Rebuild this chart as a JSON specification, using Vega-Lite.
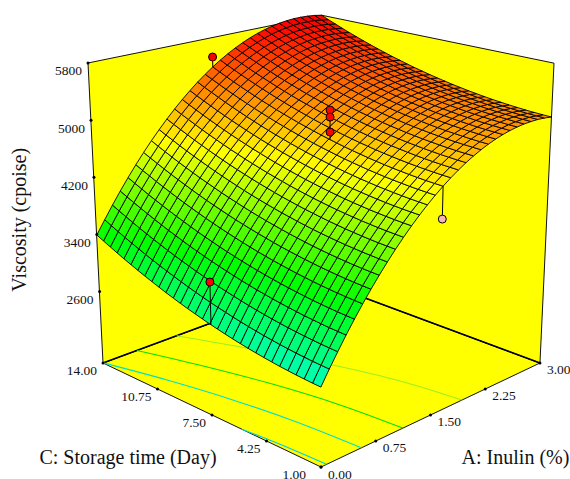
{"$schema":"https://vega.github.io/schema/vega-lite/v6.json","width":570,"height":479,"padding":0,"autosize":{"type":"none"},"background":"white","config":{"view":{"stroke":null}},
"datasets":{"frame":[
{"p":"wall","id":"f","o":0,"a":0,"c":1,"v":1600},{"p":"wall","id":"f","o":1,"a":3,"c":1,"v":1600},{"p":"wall","id":"f","o":2,"a":3,"c":14,"v":1600},{"p":"wall","id":"f","o":3,"a":0,"c":14,"v":1600},
{"p":"wall","id":"l","o":0,"a":0,"c":14,"v":1600},{"p":"wall","id":"l","o":1,"a":3,"c":14,"v":1600},{"p":"wall","id":"l","o":2,"a":3,"c":14,"v":5800},{"p":"wall","id":"l","o":3,"a":0,"c":14,"v":5800},
{"p":"wall","id":"r","o":0,"a":3,"c":1,"v":1600},{"p":"wall","id":"r","o":1,"a":3,"c":14,"v":1600},{"p":"wall","id":"r","o":2,"a":3,"c":14,"v":5800},{"p":"wall","id":"r","o":3,"a":3,"c":1,"v":5800},
{"p":"edge","id":"lb","o":0,"a":0,"c":14,"v":1600},{"p":"edge","id":"lb","o":1,"a":3,"c":14,"v":1600},{"p":"edge","id":"rb","o":0,"a":3,"c":1,"v":1600},{"p":"edge","id":"rb","o":1,"a":3,"c":14,"v":1600},
{"p":"cont","id":"2700","o":0,"a":0,"c":5.34,"v":1600},{"p":"cont","id":"2700","o":1,"a":0.024,"c":4.28,"v":1600},{"p":"cont","id":"2700","o":2,"a":0.048,"c":2.89,"v":1600},{"p":"cont","id":"2700","o":3,"a":0.067,"c":1,"v":1600},
{"p":"cont","id":"3400","o":0,"a":0.004,"c":14,"v":1600},{"p":"cont","id":"3400","o":1,"a":0.193,"c":10.75,"v":1600},{"p":"cont","id":"3400","o":2,"a":0.342,"c":7.5,"v":1600},{"p":"cont","id":"3400","o":3,"a":0.445,"c":4.25,"v":1600},{"p":"cont","id":"3400","o":4,"a":0.496,"c":1,"v":1600},
{"p":"cont","id":"4100","o":0,"a":0.42,"c":14,"v":1600},{"p":"cont","id":"4100","o":1,"a":0.646,"c":10.75,"v":1600},{"p":"cont","id":"4100","o":2,"a":0.833,"c":7.5,"v":1600},{"p":"cont","id":"4100","o":3,"a":0.965,"c":4.25,"v":1600},{"p":"cont","id":"4100","o":4,"a":1.03,"c":1,"v":1600},
{"p":"cont","id":"4800","o":0,"a":0.933,"c":14,"v":1600},{"p":"cont","id":"4800","o":1,"a":1.235,"c":10.75,"v":1600},{"p":"cont","id":"4800","o":2,"a":1.509,"c":7.5,"v":1600},{"p":"cont","id":"4800","o":3,"a":1.724,"c":4.25,"v":1600},{"p":"cont","id":"4800","o":4,"a":1.838,"c":1,"v":1600},
{"p":"stem","id":"s1","o":0,"a":1.5,"c":14,"v":5513},{"p":"stem","id":"s1","o":1,"a":1.5,"c":14,"v":5366},
{"p":"stem","id":"s2","o":0,"a":0,"c":7,"v":3345},{"p":"stem","id":"s2","o":1,"a":0,"c":7,"v":2786},
{"p":"stem","id":"s3","o":0,"a":1.5,"c":7,"v":5175},{"p":"stem","id":"s3","o":1,"a":1.5,"c":7,"v":4763},
{"p":"stem","id":"s4","o":0,"a":1.5,"c":1,"v":4128},{"p":"stem","id":"s4","o":1,"a":1.5,"c":1,"v":4560},
{"p":"dot","id":"above","a":1.5,"c":14,"v":5513},{"p":"dot","id":"above","a":0,"c":7,"v":3345},{"p":"dot","id":"above","a":1.5,"c":7,"v":5175},{"p":"dot","id":"above","a":1.5,"c":7,"v":5076},{"p":"dot","id":"above","a":1.5,"c":7,"v":4868},{"p":"dot","id":"below","a":1.5,"c":1,"v":4128},
{"p":"tk","id":"z","a":0,"c":14,"v":5800,"lab":"5800"},{"p":"tk","id":"z","a":0,"c":14,"v":5000,"lab":"5000"},{"p":"tk","id":"z","a":0,"c":14,"v":4200,"lab":"4200"},{"p":"tk","id":"z","a":0,"c":14,"v":3400,"lab":"3400"},{"p":"tk","id":"z","a":0,"c":14,"v":2600,"lab":"2600"},
{"p":"tk","id":"z","a":0,"c":14,"v":1600,"lab":"14.00"},{"p":"tk","id":"z","a":0,"c":10.75,"v":1600,"lab":"10.75"},{"p":"tk","id":"z","a":0,"c":7.5,"v":1600,"lab":"7.50"},{"p":"tk","id":"z","a":0,"c":4.25,"v":1600,"lab":"4.25"},
{"p":"tk","id":"c0","a":0,"c":1,"v":1600,"lab":"1.00"},
{"p":"tk","id":"x","a":0,"c":1,"v":1600,"lab":"0.00"},{"p":"tk","id":"x","a":0.75,"c":1,"v":1600,"lab":"0.75"},{"p":"tk","id":"x","a":1.5,"c":1,"v":1600,"lab":"1.50"},{"p":"tk","id":"x","a":2.25,"c":1,"v":1600,"lab":"2.25"},{"p":"tk","id":"x","a":3,"c":1,"v":1600,"lab":"3.00"},
{"p":"ti","id":"tc","a":0,"c":7.5,"v":1600,"lab":"C: Storage time (Day)"},{"p":"ti","id":"ta","a":1.5,"c":1,"v":1600,"lab":"A: Inulin (%)"},{"p":"ti","id":"tz","a":0,"c":14,"v":4200,"lab":"Viscosity (cpoise)"}
],
"surface":[
{"a":0,"c":1,"v":2580},{"a":0,"c":1.43,"v":2585},{"a":0,"c":1.87,"v":2592},{"a":0,"c":2.3,"v":2600},{"a":0,"c":2.73,"v":2610},{"a":0,"c":3.17,"v":2621},{"a":0,"c":3.6,"v":2634},{"a":0,"c":4.03,"v":2648},{"a":0,"c":4.47,"v":2664},{"a":0,"c":4.9,"v":2681},{"a":0,"c":5.33,"v":2700},{"a":0,"c":5.77,"v":2720},{"a":0,"c":6.2,"v":2742},{"a":0,"c":6.63,"v":2765},{"a":0,"c":7.07,"v":2790},{"a":0,"c":7.5,"v":2816},{"a":0,"c":7.93,"v":2844},{"a":0,"c":8.37,"v":2873},{"a":0,"c":8.8,"v":2904},{"a":0,"c":9.23,"v":2936},{"a":0,"c":9.67,"v":2970},{"a":0,"c":10.1,"v":3006},{"a":0,"c":10.53,"v":3043},{"a":0,"c":10.97,"v":3081},{"a":0,"c":11.4,"v":3121},{"a":0,"c":11.83,"v":3162},{"a":0,"c":12.27,"v":3205},{"a":0,"c":12.7,"v":3250},{"a":0,"c":13.13,"v":3296},{"a":0,"c":13.57,"v":3343},{"a":0,"c":14,"v":3392},
{"a":0.1,"c":1,"v":2759},{"a":0.1,"c":1.43,"v":2764},{"a":0.1,"c":1.87,"v":2770},{"a":0.1,"c":2.3,"v":2779},{"a":0.1,"c":2.73,"v":2788},{"a":0.1,"c":3.17,"v":2800},{"a":0.1,"c":3.6,"v":2812},{"a":0.1,"c":4.03,"v":2827},{"a":0.1,"c":4.47,"v":2842},{"a":0.1,"c":4.9,"v":2860},{"a":0.1,"c":5.33,"v":2879},{"a":0.1,"c":5.77,"v":2899},{"a":0.1,"c":6.2,"v":2921},{"a":0.1,"c":6.63,"v":2944},{"a":0.1,"c":7.07,"v":2969},{"a":0.1,"c":7.5,"v":2995},{"a":0.1,"c":7.93,"v":3023},{"a":0.1,"c":8.37,"v":3052},{"a":0.1,"c":8.8,"v":3083},{"a":0.1,"c":9.23,"v":3116},{"a":0.1,"c":9.67,"v":3150},{"a":0.1,"c":10.1,"v":3185},{"a":0.1,"c":10.53,"v":3222},{"a":0.1,"c":10.97,"v":3260},{"a":0.1,"c":11.4,"v":3300},{"a":0.1,"c":11.83,"v":3342},{"a":0.1,"c":12.27,"v":3385},{"a":0.1,"c":12.7,"v":3429},{"a":0.1,"c":13.13,"v":3475},{"a":0.1,"c":13.57,"v":3523},{"a":0.1,"c":14,"v":3571},
{"a":0.2,"c":1,"v":2930},{"a":0.2,"c":1.43,"v":2936},{"a":0.2,"c":1.87,"v":2942},{"a":0.2,"c":2.3,"v":2951},{"a":0.2,"c":2.73,"v":2960},{"a":0.2,"c":3.17,"v":2972},{"a":0.2,"c":3.6,"v":2984},{"a":0.2,"c":4.03,"v":2999},{"a":0.2,"c":4.47,"v":3014},{"a":0.2,"c":4.9,"v":3032},{"a":0.2,"c":5.33,"v":3051},{"a":0.2,"c":5.77,"v":3071},{"a":0.2,"c":6.2,"v":3093},{"a":0.2,"c":6.63,"v":3116},{"a":0.2,"c":7.07,"v":3141},{"a":0.2,"c":7.5,"v":3167},{"a":0.2,"c":7.93,"v":3195},{"a":0.2,"c":8.37,"v":3225},{"a":0.2,"c":8.8,"v":3255},{"a":0.2,"c":9.23,"v":3288},{"a":0.2,"c":9.67,"v":3322},{"a":0.2,"c":10.1,"v":3357},{"a":0.2,"c":10.53,"v":3394},{"a":0.2,"c":10.97,"v":3433},{"a":0.2,"c":11.4,"v":3473},{"a":0.2,"c":11.83,"v":3514},{"a":0.2,"c":12.27,"v":3557},{"a":0.2,"c":12.7,"v":3602},{"a":0.2,"c":13.13,"v":3648},{"a":0.2,"c":13.57,"v":3695},{"a":0.2,"c":14,"v":3744},
{"a":0.3,"c":1,"v":3096},{"a":0.3,"c":1.43,"v":3101},{"a":0.3,"c":1.87,"v":3107},{"a":0.3,"c":2.3,"v":3116},{"a":0.3,"c":2.73,"v":3126},{"a":0.3,"c":3.17,"v":3136},{"a":0.3,"c":3.6,"v":3150},{"a":0.3,"c":4.03,"v":3164},{"a":0.3,"c":4.47,"v":3180},{"a":0.3,"c":4.9,"v":3197},{"a":0.3,"c":5.33,"v":3216},{"a":0.3,"c":5.77,"v":3236},{"a":0.3,"c":6.2,"v":3258},{"a":0.3,"c":6.63,"v":3281},{"a":0.3,"c":7.07,"v":3306},{"a":0.3,"c":7.5,"v":3333},{"a":0.3,"c":7.93,"v":3361},{"a":0.3,"c":8.37,"v":3390},{"a":0.3,"c":8.8,"v":3421},{"a":0.3,"c":9.23,"v":3453},{"a":0.3,"c":9.67,"v":3487},{"a":0.3,"c":10.1,"v":3523},{"a":0.3,"c":10.53,"v":3560},{"a":0.3,"c":10.97,"v":3598},{"a":0.3,"c":11.4,"v":3638},{"a":0.3,"c":11.83,"v":3680},{"a":0.3,"c":12.27,"v":3723},{"a":0.3,"c":12.7,"v":3767},{"a":0.3,"c":13.13,"v":3813},{"a":0.3,"c":13.57,"v":3861},{"a":0.3,"c":14,"v":3910},
{"a":0.4,"c":1,"v":3254},{"a":0.4,"c":1.43,"v":3259},{"a":0.4,"c":1.87,"v":3266},{"a":0.4,"c":2.3,"v":3274},{"a":0.4,"c":2.73,"v":3284},{"a":0.4,"c":3.17,"v":3295},{"a":0.4,"c":3.6,"v":3308},{"a":0.4,"c":4.03,"v":3323},{"a":0.4,"c":4.47,"v":3339},{"a":0.4,"c":4.9,"v":3356},{"a":0.4,"c":5.33,"v":3375},{"a":0.4,"c":5.77,"v":3395},{"a":0.4,"c":6.2,"v":3417},{"a":0.4,"c":6.63,"v":3440},{"a":0.4,"c":7.07,"v":3465},{"a":0.4,"c":7.5,"v":3492},{"a":0.4,"c":7.93,"v":3519},{"a":0.4,"c":8.37,"v":3549},{"a":0.4,"c":8.8,"v":3580},{"a":0.4,"c":9.23,"v":3612},{"a":0.4,"c":9.67,"v":3646},{"a":0.4,"c":10.1,"v":3682},{"a":0.4,"c":10.53,"v":3719},{"a":0.4,"c":10.97,"v":3757},{"a":0.4,"c":11.4,"v":3797},{"a":0.4,"c":11.83,"v":3839},{"a":0.4,"c":12.27,"v":3882},{"a":0.4,"c":12.7,"v":3926},{"a":0.4,"c":13.13,"v":3973},{"a":0.4,"c":13.57,"v":4020},{"a":0.4,"c":14,"v":4069},
{"a":0.5,"c":1,"v":3406},{"a":0.5,"c":1.43,"v":3411},{"a":0.5,"c":1.87,"v":3418},{"a":0.5,"c":2.3,"v":3426},{"a":0.5,"c":2.73,"v":3436},{"a":0.5,"c":3.17,"v":3447},{"a":0.5,"c":3.6,"v":3460},{"a":0.5,"c":4.03,"v":3475},{"a":0.5,"c":4.47,"v":3490},{"a":0.5,"c":4.9,"v":3508},{"a":0.5,"c":5.33,"v":3527},{"a":0.5,"c":5.77,"v":3547},{"a":0.5,"c":6.2,"v":3569},{"a":0.5,"c":6.63,"v":3592},{"a":0.5,"c":7.07,"v":3617},{"a":0.5,"c":7.5,"v":3644},{"a":0.5,"c":7.93,"v":3672},{"a":0.5,"c":8.37,"v":3701},{"a":0.5,"c":8.8,"v":3732},{"a":0.5,"c":9.23,"v":3764},{"a":0.5,"c":9.67,"v":3798},{"a":0.5,"c":10.1,"v":3834},{"a":0.5,"c":10.53,"v":3871},{"a":0.5,"c":10.97,"v":3909},{"a":0.5,"c":11.4,"v":3949},{"a":0.5,"c":11.83,"v":3991},{"a":0.5,"c":12.27,"v":4034},{"a":0.5,"c":12.7,"v":4078},{"a":0.5,"c":13.13,"v":4125},{"a":0.5,"c":13.57,"v":4172},{"a":0.5,"c":14,"v":4221},
{"a":0.6,"c":1,"v":3551},{"a":0.6,"c":1.43,"v":3557},{"a":0.6,"c":1.87,"v":3563},{"a":0.6,"c":2.3,"v":3572},{"a":0.6,"c":2.73,"v":3581},{"a":0.6,"c":3.17,"v":3593},{"a":0.6,"c":3.6,"v":3605},{"a":0.6,"c":4.03,"v":3620},{"a":0.6,"c":4.47,"v":3636},{"a":0.6,"c":4.9,"v":3653},{"a":0.6,"c":5.33,"v":3672},{"a":0.6,"c":5.77,"v":3692},{"a":0.6,"c":6.2,"v":3714},{"a":0.6,"c":6.63,"v":3738},{"a":0.6,"c":7.07,"v":3763},{"a":0.6,"c":7.5,"v":3789},{"a":0.6,"c":7.93,"v":3817},{"a":0.6,"c":8.37,"v":3846},{"a":0.6,"c":8.8,"v":3877},{"a":0.6,"c":9.23,"v":3910},{"a":0.6,"c":9.67,"v":3944},{"a":0.6,"c":10.1,"v":3979},{"a":0.6,"c":10.53,"v":4016},{"a":0.6,"c":10.97,"v":4055},{"a":0.6,"c":11.4,"v":4095},{"a":0.6,"c":11.83,"v":4136},{"a":0.6,"c":12.27,"v":4179},{"a":0.6,"c":12.7,"v":4224},{"a":0.6,"c":13.13,"v":4270},{"a":0.6,"c":13.57,"v":4317},{"a":0.6,"c":14,"v":4366},
{"a":0.7,"c":1,"v":3690},{"a":0.7,"c":1.43,"v":3696},{"a":0.7,"c":1.87,"v":3702},{"a":0.7,"c":2.3,"v":3710},{"a":0.7,"c":2.73,"v":3720},{"a":0.7,"c":3.17,"v":3731},{"a":0.7,"c":3.6,"v":3744},{"a":0.7,"c":4.03,"v":3758},{"a":0.7,"c":4.47,"v":3774},{"a":0.7,"c":4.9,"v":3792},{"a":0.7,"c":5.33,"v":3810},{"a":0.7,"c":5.77,"v":3831},{"a":0.7,"c":6.2,"v":3853},{"a":0.7,"c":6.63,"v":3876},{"a":0.7,"c":7.07,"v":3901},{"a":0.7,"c":7.5,"v":3927},{"a":0.7,"c":7.93,"v":3955},{"a":0.7,"c":8.37,"v":3985},{"a":0.7,"c":8.8,"v":4016},{"a":0.7,"c":9.23,"v":4048},{"a":0.7,"c":9.67,"v":4082},{"a":0.7,"c":10.1,"v":4118},{"a":0.7,"c":10.53,"v":4155},{"a":0.7,"c":10.97,"v":4193},{"a":0.7,"c":11.4,"v":4233},{"a":0.7,"c":11.83,"v":4274},{"a":0.7,"c":12.27,"v":4317},{"a":0.7,"c":12.7,"v":4362},{"a":0.7,"c":13.13,"v":4408},{"a":0.7,"c":13.57,"v":4456},{"a":0.7,"c":14,"v":4505},
{"a":0.8,"c":1,"v":3822},{"a":0.8,"c":1.43,"v":3827},{"a":0.8,"c":1.87,"v":3834},{"a":0.8,"c":2.3,"v":3842},{"a":0.8,"c":2.73,"v":3852},{"a":0.8,"c":3.17,"v":3863},{"a":0.8,"c":3.6,"v":3876},{"a":0.8,"c":4.03,"v":3890},{"a":0.8,"c":4.47,"v":3906},{"a":0.8,"c":4.9,"v":3923},{"a":0.8,"c":5.33,"v":3942},{"a":0.8,"c":5.77,"v":3963},{"a":0.8,"c":6.2,"v":3985},{"a":0.8,"c":6.63,"v":4008},{"a":0.8,"c":7.07,"v":4033},{"a":0.8,"c":7.5,"v":4059},{"a":0.8,"c":7.93,"v":4087},{"a":0.8,"c":8.37,"v":4116},{"a":0.8,"c":8.8,"v":4147},{"a":0.8,"c":9.23,"v":4180},{"a":0.8,"c":9.67,"v":4214},{"a":0.8,"c":10.1,"v":4249},{"a":0.8,"c":10.53,"v":4286},{"a":0.8,"c":10.97,"v":4325},{"a":0.8,"c":11.4,"v":4365},{"a":0.8,"c":11.83,"v":4406},{"a":0.8,"c":12.27,"v":4449},{"a":0.8,"c":12.7,"v":4494},{"a":0.8,"c":13.13,"v":4540},{"a":0.8,"c":13.57,"v":4587},{"a":0.8,"c":14,"v":4636},
{"a":0.9,"c":1,"v":3947},{"a":0.9,"c":1.43,"v":3953},{"a":0.9,"c":1.87,"v":3959},{"a":0.9,"c":2.3,"v":3967},{"a":0.9,"c":2.73,"v":3977},{"a":0.9,"c":3.17,"v":3989},{"a":0.9,"c":3.6,"v":4001},{"a":0.9,"c":4.03,"v":4016},{"a":0.9,"c":4.47,"v":4031},{"a":0.9,"c":4.9,"v":4049},{"a":0.9,"c":5.33,"v":4068},{"a":0.9,"c":5.77,"v":4088},{"a":0.9,"c":6.2,"v":4110},{"a":0.9,"c":6.63,"v":4133},{"a":0.9,"c":7.07,"v":4158},{"a":0.9,"c":7.5,"v":4184},{"a":0.9,"c":7.93,"v":4212},{"a":0.9,"c":8.37,"v":4242},{"a":0.9,"c":8.8,"v":4272},{"a":0.9,"c":9.23,"v":4305},{"a":0.9,"c":9.67,"v":4339},{"a":0.9,"c":10.1,"v":4374},{"a":0.9,"c":10.53,"v":4411},{"a":0.9,"c":10.97,"v":4450},{"a":0.9,"c":11.4,"v":4490},{"a":0.9,"c":11.83,"v":4531},{"a":0.9,"c":12.27,"v":4574},{"a":0.9,"c":12.7,"v":4619},{"a":0.9,"c":13.13,"v":4665},{"a":0.9,"c":13.57,"v":4712},{"a":0.9,"c":14,"v":4761},
{"a":1,"c":1,"v":4066},{"a":1,"c":1.43,"v":4071},{"a":1,"c":1.87,"v":4078},{"a":1,"c":2.3,"v":4086},{"a":1,"c":2.73,"v":4096},{"a":1,"c":3.17,"v":4107},{"a":1,"c":3.6,"v":4120},{"a":1,"c":4.03,"v":4134},{"a":1,"c":4.47,"v":4150},{"a":1,"c":4.9,"v":4167},{"a":1,"c":5.33,"v":4186},{"a":1,"c":5.77,"v":4206},{"a":1,"c":6.2,"v":4228},{"a":1,"c":6.63,"v":4251},{"a":1,"c":7.07,"v":4276},{"a":1,"c":7.5,"v":4303},{"a":1,"c":7.93,"v":4330},{"a":1,"c":8.37,"v":4360},{"a":1,"c":8.8,"v":4391},{"a":1,"c":9.23,"v":4423},{"a":1,"c":9.67,"v":4457},{"a":1,"c":10.1,"v":4493},{"a":1,"c":10.53,"v":4529},{"a":1,"c":10.97,"v":4568},{"a":1,"c":11.4,"v":4608},{"a":1,"c":11.83,"v":4649},{"a":1,"c":12.27,"v":4692},{"a":1,"c":12.7,"v":4737},{"a":1,"c":13.13,"v":4783},{"a":1,"c":13.57,"v":4830},{"a":1,"c":14,"v":4879},
{"a":1.1,"c":1,"v":4178},{"a":1.1,"c":1.43,"v":4183},{"a":1.1,"c":1.87,"v":4190},{"a":1.1,"c":2.3,"v":4198},{"a":1.1,"c":2.73,"v":4208},{"a":1.1,"c":3.17,"v":4219},{"a":1.1,"c":3.6,"v":4232},{"a":1.1,"c":4.03,"v":4246},{"a":1.1,"c":4.47,"v":4262},{"a":1.1,"c":4.9,"v":4279},{"a":1.1,"c":5.33,"v":4298},{"a":1.1,"c":5.77,"v":4318},{"a":1.1,"c":6.2,"v":4340},{"a":1.1,"c":6.63,"v":4363},{"a":1.1,"c":7.07,"v":4388},{"a":1.1,"c":7.5,"v":4414},{"a":1.1,"c":7.93,"v":4442},{"a":1.1,"c":8.37,"v":4471},{"a":1.1,"c":8.8,"v":4502},{"a":1.1,"c":9.23,"v":4535},{"a":1.1,"c":9.67,"v":4568},{"a":1.1,"c":10.1,"v":4604},{"a":1.1,"c":10.53,"v":4641},{"a":1.1,"c":10.97,"v":4679},{"a":1.1,"c":11.4,"v":4719},{"a":1.1,"c":11.83,"v":4760},{"a":1.1,"c":12.27,"v":4803},{"a":1.1,"c":12.7,"v":4848},{"a":1.1,"c":13.13,"v":4894},{"a":1.1,"c":13.57,"v":4941},{"a":1.1,"c":14,"v":4990},
{"a":1.2,"c":1,"v":4284},{"a":1.2,"c":1.43,"v":4289},{"a":1.2,"c":1.87,"v":4295},{"a":1.2,"c":2.3,"v":4303},{"a":1.2,"c":2.73,"v":4313},{"a":1.2,"c":3.17,"v":4324},{"a":1.2,"c":3.6,"v":4337},{"a":1.2,"c":4.03,"v":4351},{"a":1.2,"c":4.47,"v":4367},{"a":1.2,"c":4.9,"v":4384},{"a":1.2,"c":5.33,"v":4403},{"a":1.2,"c":5.77,"v":4423},{"a":1.2,"c":6.2,"v":4445},{"a":1.2,"c":6.63,"v":4468},{"a":1.2,"c":7.07,"v":4493},{"a":1.2,"c":7.5,"v":4519},{"a":1.2,"c":7.93,"v":4547},{"a":1.2,"c":8.37,"v":4576},{"a":1.2,"c":8.8,"v":4607},{"a":1.2,"c":9.23,"v":4639},{"a":1.2,"c":9.67,"v":4673},{"a":1.2,"c":10.1,"v":4708},{"a":1.2,"c":10.53,"v":4745},{"a":1.2,"c":10.97,"v":4784},{"a":1.2,"c":11.4,"v":4824},{"a":1.2,"c":11.83,"v":4865},{"a":1.2,"c":12.27,"v":4908},{"a":1.2,"c":12.7,"v":4952},{"a":1.2,"c":13.13,"v":4998},{"a":1.2,"c":13.57,"v":5045},{"a":1.2,"c":14,"v":5094},
{"a":1.3,"c":1,"v":4382},{"a":1.3,"c":1.43,"v":4387},{"a":1.3,"c":1.87,"v":4394},{"a":1.3,"c":2.3,"v":4402},{"a":1.3,"c":2.73,"v":4412},{"a":1.3,"c":3.17,"v":4423},{"a":1.3,"c":3.6,"v":4435},{"a":1.3,"c":4.03,"v":4450},{"a":1.3,"c":4.47,"v":4465},{"a":1.3,"c":4.9,"v":4482},{"a":1.3,"c":5.33,"v":4501},{"a":1.3,"c":5.77,"v":4521},{"a":1.3,"c":6.2,"v":4543},{"a":1.3,"c":6.63,"v":4566},{"a":1.3,"c":7.07,"v":4591},{"a":1.3,"c":7.5,"v":4617},{"a":1.3,"c":7.93,"v":4645},{"a":1.3,"c":8.37,"v":4674},{"a":1.3,"c":8.8,"v":4705},{"a":1.3,"c":9.23,"v":4737},{"a":1.3,"c":9.67,"v":4771},{"a":1.3,"c":10.1,"v":4806},{"a":1.3,"c":10.53,"v":4843},{"a":1.3,"c":10.97,"v":4881},{"a":1.3,"c":11.4,"v":4921},{"a":1.3,"c":11.83,"v":4962},{"a":1.3,"c":12.27,"v":5005},{"a":1.3,"c":12.7,"v":5050},{"a":1.3,"c":13.13,"v":5096},{"a":1.3,"c":13.57,"v":5143},{"a":1.3,"c":14,"v":5192},
{"a":1.4,"c":1,"v":4475},{"a":1.4,"c":1.43,"v":4480},{"a":1.4,"c":1.87,"v":4486},{"a":1.4,"c":2.3,"v":4494},{"a":1.4,"c":2.73,"v":4504},{"a":1.4,"c":3.17,"v":4515},{"a":1.4,"c":3.6,"v":4527},{"a":1.4,"c":4.03,"v":4541},{"a":1.4,"c":4.47,"v":4557},{"a":1.4,"c":4.9,"v":4574},{"a":1.4,"c":5.33,"v":4593},{"a":1.4,"c":5.77,"v":4613},{"a":1.4,"c":6.2,"v":4634},{"a":1.4,"c":6.63,"v":4658},{"a":1.4,"c":7.07,"v":4682},{"a":1.4,"c":7.5,"v":4708},{"a":1.4,"c":7.93,"v":4736},{"a":1.4,"c":8.37,"v":4765},{"a":1.4,"c":8.8,"v":4796},{"a":1.4,"c":9.23,"v":4828},{"a":1.4,"c":9.67,"v":4862},{"a":1.4,"c":10.1,"v":4897},{"a":1.4,"c":10.53,"v":4934},{"a":1.4,"c":10.97,"v":4972},{"a":1.4,"c":11.4,"v":5012},{"a":1.4,"c":11.83,"v":5053},{"a":1.4,"c":12.27,"v":5096},{"a":1.4,"c":12.7,"v":5140},{"a":1.4,"c":13.13,"v":5186},{"a":1.4,"c":13.57,"v":5234},{"a":1.4,"c":14,"v":5282},
{"a":1.5,"c":1,"v":4560},{"a":1.5,"c":1.43,"v":4565},{"a":1.5,"c":1.87,"v":4571},{"a":1.5,"c":2.3,"v":4579},{"a":1.5,"c":2.73,"v":4589},{"a":1.5,"c":3.17,"v":4600},{"a":1.5,"c":3.6,"v":4612},{"a":1.5,"c":4.03,"v":4626},{"a":1.5,"c":4.47,"v":4642},{"a":1.5,"c":4.9,"v":4659},{"a":1.5,"c":5.33,"v":4678},{"a":1.5,"c":5.77,"v":4698},{"a":1.5,"c":6.2,"v":4719},{"a":1.5,"c":6.63,"v":4742},{"a":1.5,"c":7.07,"v":4767},{"a":1.5,"c":7.5,"v":4793},{"a":1.5,"c":7.93,"v":4821},{"a":1.5,"c":8.37,"v":4850},{"a":1.5,"c":8.8,"v":4880},{"a":1.5,"c":9.23,"v":4912},{"a":1.5,"c":9.67,"v":4946},{"a":1.5,"c":10.1,"v":4981},{"a":1.5,"c":10.53,"v":5018},{"a":1.5,"c":10.97,"v":5056},{"a":1.5,"c":11.4,"v":5096},{"a":1.5,"c":11.83,"v":5137},{"a":1.5,"c":12.27,"v":5180},{"a":1.5,"c":12.7,"v":5224},{"a":1.5,"c":13.13,"v":5270},{"a":1.5,"c":13.57,"v":5317},{"a":1.5,"c":14,"v":5366},
{"a":1.6,"c":1,"v":4639},{"a":1.6,"c":1.43,"v":4644},{"a":1.6,"c":1.87,"v":4650},{"a":1.6,"c":2.3,"v":4658},{"a":1.6,"c":2.73,"v":4667},{"a":1.6,"c":3.17,"v":4678},{"a":1.6,"c":3.6,"v":4691},{"a":1.6,"c":4.03,"v":4705},{"a":1.6,"c":4.47,"v":4720},{"a":1.6,"c":4.9,"v":4737},{"a":1.6,"c":5.33,"v":4756},{"a":1.6,"c":5.77,"v":4776},{"a":1.6,"c":6.2,"v":4797},{"a":1.6,"c":6.63,"v":4820},{"a":1.6,"c":7.07,"v":4845},{"a":1.6,"c":7.5,"v":4871},{"a":1.6,"c":7.93,"v":4898},{"a":1.6,"c":8.37,"v":4927},{"a":1.6,"c":8.8,"v":4958},{"a":1.6,"c":9.23,"v":4990},{"a":1.6,"c":9.67,"v":5024},{"a":1.6,"c":10.1,"v":5059},{"a":1.6,"c":10.53,"v":5095},{"a":1.6,"c":10.97,"v":5134},{"a":1.6,"c":11.4,"v":5173},{"a":1.6,"c":11.83,"v":5214},{"a":1.6,"c":12.27,"v":5257},{"a":1.6,"c":12.7,"v":5301},{"a":1.6,"c":13.13,"v":5347},{"a":1.6,"c":13.57,"v":5394},{"a":1.6,"c":14,"v":5443},
{"a":1.7,"c":1,"v":4711},{"a":1.7,"c":1.43,"v":4716},{"a":1.7,"c":1.87,"v":4722},{"a":1.7,"c":2.3,"v":4730},{"a":1.7,"c":2.73,"v":4739},{"a":1.7,"c":3.17,"v":4750},{"a":1.7,"c":3.6,"v":4763},{"a":1.7,"c":4.03,"v":4777},{"a":1.7,"c":4.47,"v":4792},{"a":1.7,"c":4.9,"v":4809},{"a":1.7,"c":5.33,"v":4827},{"a":1.7,"c":5.77,"v":4847},{"a":1.7,"c":6.2,"v":4869},{"a":1.7,"c":6.63,"v":4891},{"a":1.7,"c":7.07,"v":4916},{"a":1.7,"c":7.5,"v":4942},{"a":1.7,"c":7.93,"v":4969},{"a":1.7,"c":8.37,"v":4998},{"a":1.7,"c":8.8,"v":5029},{"a":1.7,"c":9.23,"v":5061},{"a":1.7,"c":9.67,"v":5094},{"a":1.7,"c":10.1,"v":5129},{"a":1.7,"c":10.53,"v":5166},{"a":1.7,"c":10.97,"v":5204},{"a":1.7,"c":11.4,"v":5244},{"a":1.7,"c":11.83,"v":5285},{"a":1.7,"c":12.27,"v":5327},{"a":1.7,"c":12.7,"v":5371},{"a":1.7,"c":13.13,"v":5417},{"a":1.7,"c":13.57,"v":5464},{"a":1.7,"c":14,"v":5513},
{"a":1.8,"c":1,"v":4777},{"a":1.8,"c":1.43,"v":4781},{"a":1.8,"c":1.87,"v":4788},{"a":1.8,"c":2.3,"v":4795},{"a":1.8,"c":2.73,"v":4805},{"a":1.8,"c":3.17,"v":4815},{"a":1.8,"c":3.6,"v":4828},{"a":1.8,"c":4.03,"v":4841},{"a":1.8,"c":4.47,"v":4857},{"a":1.8,"c":4.9,"v":4874},{"a":1.8,"c":5.33,"v":4892},{"a":1.8,"c":5.77,"v":4912},{"a":1.8,"c":6.2,"v":4933},{"a":1.8,"c":6.63,"v":4956},{"a":1.8,"c":7.07,"v":4980},{"a":1.8,"c":7.5,"v":5006},{"a":1.8,"c":7.93,"v":5034},{"a":1.8,"c":8.37,"v":5063},{"a":1.8,"c":8.8,"v":5093},{"a":1.8,"c":9.23,"v":5125},{"a":1.8,"c":9.67,"v":5158},{"a":1.8,"c":10.1,"v":5193},{"a":1.8,"c":10.53,"v":5230},{"a":1.8,"c":10.97,"v":5268},{"a":1.8,"c":11.4,"v":5307},{"a":1.8,"c":11.83,"v":5348},{"a":1.8,"c":12.27,"v":5391},{"a":1.8,"c":12.7,"v":5435},{"a":1.8,"c":13.13,"v":5480},{"a":1.8,"c":13.57,"v":5527},{"a":1.8,"c":14,"v":5576},
{"a":1.9,"c":1,"v":4836},{"a":1.9,"c":1.43,"v":4840},{"a":1.9,"c":1.87,"v":4846},{"a":1.9,"c":2.3,"v":4854},{"a":1.9,"c":2.73,"v":4863},{"a":1.9,"c":3.17,"v":4874},{"a":1.9,"c":3.6,"v":4886},{"a":1.9,"c":4.03,"v":4900},{"a":1.9,"c":4.47,"v":4915},{"a":1.9,"c":4.9,"v":4932},{"a":1.9,"c":5.33,"v":4950},{"a":1.9,"c":5.77,"v":4970},{"a":1.9,"c":6.2,"v":4991},{"a":1.9,"c":6.63,"v":5014},{"a":1.9,"c":7.07,"v":5038},{"a":1.9,"c":7.5,"v":5064},{"a":1.9,"c":7.93,"v":5091},{"a":1.9,"c":8.37,"v":5120},{"a":1.9,"c":8.8,"v":5150},{"a":1.9,"c":9.23,"v":5182},{"a":1.9,"c":9.67,"v":5216},{"a":1.9,"c":10.1,"v":5251},{"a":1.9,"c":10.53,"v":5287},{"a":1.9,"c":10.97,"v":5325},{"a":1.9,"c":11.4,"v":5364},{"a":1.9,"c":11.83,"v":5405},{"a":1.9,"c":12.27,"v":5448},{"a":1.9,"c":12.7,"v":5492},{"a":1.9,"c":13.13,"v":5537},{"a":1.9,"c":13.57,"v":5584},{"a":1.9,"c":14,"v":5632},
{"a":2,"c":1,"v":4888},{"a":2,"c":1.43,"v":4893},{"a":2,"c":1.87,"v":4899},{"a":2,"c":2.3,"v":4906},{"a":2,"c":2.73,"v":4915},{"a":2,"c":3.17,"v":4926},{"a":2,"c":3.6,"v":4938},{"a":2,"c":4.03,"v":4952},{"a":2,"c":4.47,"v":4967},{"a":2,"c":4.9,"v":4983},{"a":2,"c":5.33,"v":5002},{"a":2,"c":5.77,"v":5021},{"a":2,"c":6.2,"v":5042},{"a":2,"c":6.63,"v":5065},{"a":2,"c":7.07,"v":5089},{"a":2,"c":7.5,"v":5115},{"a":2,"c":7.93,"v":5142},{"a":2,"c":8.37,"v":5171},{"a":2,"c":8.8,"v":5201},{"a":2,"c":9.23,"v":5233},{"a":2,"c":9.67,"v":5266},{"a":2,"c":10.1,"v":5301},{"a":2,"c":10.53,"v":5337},{"a":2,"c":10.97,"v":5375},{"a":2,"c":11.4,"v":5414},{"a":2,"c":11.83,"v":5455},{"a":2,"c":12.27,"v":5497},{"a":2,"c":12.7,"v":5541},{"a":2,"c":13.13,"v":5587},{"a":2,"c":13.57,"v":5633},{"a":2,"c":14,"v":5682},
{"a":2.1,"c":1,"v":4934},{"a":2.1,"c":1.43,"v":4938},{"a":2.1,"c":1.87,"v":4944},{"a":2.1,"c":2.3,"v":4952},{"a":2.1,"c":2.73,"v":4961},{"a":2.1,"c":3.17,"v":4971},{"a":2.1,"c":3.6,"v":4983},{"a":2.1,"c":4.03,"v":4997},{"a":2.1,"c":4.47,"v":5012},{"a":2.1,"c":4.9,"v":5028},{"a":2.1,"c":5.33,"v":5046},{"a":2.1,"c":5.77,"v":5066},{"a":2.1,"c":6.2,"v":5087},{"a":2.1,"c":6.63,"v":5109},{"a":2.1,"c":7.07,"v":5133},{"a":2.1,"c":7.5,"v":5159},{"a":2.1,"c":7.93,"v":5186},{"a":2.1,"c":8.37,"v":5215},{"a":2.1,"c":8.8,"v":5245},{"a":2.1,"c":9.23,"v":5277},{"a":2.1,"c":9.67,"v":5310},{"a":2.1,"c":10.1,"v":5344},{"a":2.1,"c":10.53,"v":5381},{"a":2.1,"c":10.97,"v":5418},{"a":2.1,"c":11.4,"v":5457},{"a":2.1,"c":11.83,"v":5498},{"a":2.1,"c":12.27,"v":5540},{"a":2.1,"c":12.7,"v":5584},{"a":2.1,"c":13.13,"v":5629},{"a":2.1,"c":13.57,"v":5676},{"a":2.1,"c":14,"v":5724},
{"a":2.2,"c":1,"v":4973},{"a":2.2,"c":1.43,"v":4977},{"a":2.2,"c":1.87,"v":4983},{"a":2.2,"c":2.3,"v":4990},{"a":2.2,"c":2.73,"v":4999},{"a":2.2,"c":3.17,"v":5009},{"a":2.2,"c":3.6,"v":5021},{"a":2.2,"c":4.03,"v":5035},{"a":2.2,"c":4.47,"v":5050},{"a":2.2,"c":4.9,"v":5066},{"a":2.2,"c":5.33,"v":5084},{"a":2.2,"c":5.77,"v":5103},{"a":2.2,"c":6.2,"v":5124},{"a":2.2,"c":6.63,"v":5147},{"a":2.2,"c":7.07,"v":5171},{"a":2.2,"c":7.5,"v":5196},{"a":2.2,"c":7.93,"v":5223},{"a":2.2,"c":8.37,"v":5252},{"a":2.2,"c":8.8,"v":5282},{"a":2.2,"c":9.23,"v":5314},{"a":2.2,"c":9.67,"v":5347},{"a":2.2,"c":10.1,"v":5381},{"a":2.2,"c":10.53,"v":5417},{"a":2.2,"c":10.97,"v":5455},{"a":2.2,"c":11.4,"v":5494},{"a":2.2,"c":11.83,"v":5534},{"a":2.2,"c":12.27,"v":5576},{"a":2.2,"c":12.7,"v":5620},{"a":2.2,"c":13.13,"v":5665},{"a":2.2,"c":13.57,"v":5712},{"a":2.2,"c":14,"v":5760},
{"a":2.3,"c":1,"v":5005},{"a":2.3,"c":1.43,"v":5009},{"a":2.3,"c":1.87,"v":5015},{"a":2.3,"c":2.3,"v":5022},{"a":2.3,"c":2.73,"v":5031},{"a":2.3,"c":3.17,"v":5041},{"a":2.3,"c":3.6,"v":5053},{"a":2.3,"c":4.03,"v":5066},{"a":2.3,"c":4.47,"v":5081},{"a":2.3,"c":4.9,"v":5097},{"a":2.3,"c":5.33,"v":5115},{"a":2.3,"c":5.77,"v":5134},{"a":2.3,"c":6.2,"v":5155},{"a":2.3,"c":6.63,"v":5178},{"a":2.3,"c":7.07,"v":5202},{"a":2.3,"c":7.5,"v":5227},{"a":2.3,"c":7.93,"v":5254},{"a":2.3,"c":8.37,"v":5282},{"a":2.3,"c":8.8,"v":5312},{"a":2.3,"c":9.23,"v":5344},{"a":2.3,"c":9.67,"v":5377},{"a":2.3,"c":10.1,"v":5411},{"a":2.3,"c":10.53,"v":5447},{"a":2.3,"c":10.97,"v":5484},{"a":2.3,"c":11.4,"v":5523},{"a":2.3,"c":11.83,"v":5564},{"a":2.3,"c":12.27,"v":5606},{"a":2.3,"c":12.7,"v":5649},{"a":2.3,"c":13.13,"v":5694},{"a":2.3,"c":13.57,"v":5741},{"a":2.3,"c":14,"v":5789},
{"a":2.4,"c":1,"v":5031},{"a":2.4,"c":1.43,"v":5035},{"a":2.4,"c":1.87,"v":5041},{"a":2.4,"c":2.3,"v":5048},{"a":2.4,"c":2.73,"v":5056},{"a":2.4,"c":3.17,"v":5067},{"a":2.4,"c":3.6,"v":5078},{"a":2.4,"c":4.03,"v":5091},{"a":2.4,"c":4.47,"v":5106},{"a":2.4,"c":4.9,"v":5122},{"a":2.4,"c":5.33,"v":5140},{"a":2.4,"c":5.77,"v":5159},{"a":2.4,"c":6.2,"v":5180},{"a":2.4,"c":6.63,"v":5202},{"a":2.4,"c":7.07,"v":5226},{"a":2.4,"c":7.5,"v":5251},{"a":2.4,"c":7.93,"v":5278},{"a":2.4,"c":8.37,"v":5306},{"a":2.4,"c":8.8,"v":5336},{"a":2.4,"c":9.23,"v":5367},{"a":2.4,"c":9.67,"v":5400},{"a":2.4,"c":10.1,"v":5434},{"a":2.4,"c":10.53,"v":5470},{"a":2.4,"c":10.97,"v":5507},{"a":2.4,"c":11.4,"v":5546},{"a":2.4,"c":11.83,"v":5587},{"a":2.4,"c":12.27,"v":5629},{"a":2.4,"c":12.7,"v":5672},{"a":2.4,"c":13.13,"v":5717},{"a":2.4,"c":13.57,"v":5763},{"a":2.4,"c":14,"v":5811},
{"a":2.5,"c":1,"v":5050},{"a":2.5,"c":1.43,"v":5054},{"a":2.5,"c":1.87,"v":5059},{"a":2.5,"c":2.3,"v":5066},{"a":2.5,"c":2.73,"v":5075},{"a":2.5,"c":3.17,"v":5085},{"a":2.5,"c":3.6,"v":5096},{"a":2.5,"c":4.03,"v":5109},{"a":2.5,"c":4.47,"v":5124},{"a":2.5,"c":4.9,"v":5140},{"a":2.5,"c":5.33,"v":5158},{"a":2.5,"c":5.77,"v":5177},{"a":2.5,"c":6.2,"v":5197},{"a":2.5,"c":6.63,"v":5219},{"a":2.5,"c":7.07,"v":5243},{"a":2.5,"c":7.5,"v":5268},{"a":2.5,"c":7.93,"v":5295},{"a":2.5,"c":8.37,"v":5323},{"a":2.5,"c":8.8,"v":5353},{"a":2.5,"c":9.23,"v":5384},{"a":2.5,"c":9.67,"v":5416},{"a":2.5,"c":10.1,"v":5451},{"a":2.5,"c":10.53,"v":5486},{"a":2.5,"c":10.97,"v":5524},{"a":2.5,"c":11.4,"v":5562},{"a":2.5,"c":11.83,"v":5602},{"a":2.5,"c":12.27,"v":5644},{"a":2.5,"c":12.7,"v":5688},{"a":2.5,"c":13.13,"v":5732},{"a":2.5,"c":13.57,"v":5779},{"a":2.5,"c":14,"v":5826},
{"a":2.6,"c":1,"v":5063},{"a":2.6,"c":1.43,"v":5066},{"a":2.6,"c":1.87,"v":5072},{"a":2.6,"c":2.3,"v":5079},{"a":2.6,"c":2.73,"v":5087},{"a":2.6,"c":3.17,"v":5097},{"a":2.6,"c":3.6,"v":5108},{"a":2.6,"c":4.03,"v":5121},{"a":2.6,"c":4.47,"v":5135},{"a":2.6,"c":4.9,"v":5151},{"a":2.6,"c":5.33,"v":5169},{"a":2.6,"c":5.77,"v":5188},{"a":2.6,"c":6.2,"v":5208},{"a":2.6,"c":6.63,"v":5230},{"a":2.6,"c":7.07,"v":5254},{"a":2.6,"c":7.5,"v":5279},{"a":2.6,"c":7.93,"v":5305},{"a":2.6,"c":8.37,"v":5333},{"a":2.6,"c":8.8,"v":5363},{"a":2.6,"c":9.23,"v":5394},{"a":2.6,"c":9.67,"v":5426},{"a":2.6,"c":10.1,"v":5460},{"a":2.6,"c":10.53,"v":5496},{"a":2.6,"c":10.97,"v":5533},{"a":2.6,"c":11.4,"v":5572},{"a":2.6,"c":11.83,"v":5612},{"a":2.6,"c":12.27,"v":5653},{"a":2.6,"c":12.7,"v":5696},{"a":2.6,"c":13.13,"v":5741},{"a":2.6,"c":13.57,"v":5787},{"a":2.6,"c":14,"v":5835},
{"a":2.7,"c":1,"v":5068},{"a":2.7,"c":1.43,"v":5072},{"a":2.7,"c":1.87,"v":5077},{"a":2.7,"c":2.3,"v":5084},{"a":2.7,"c":2.73,"v":5092},{"a":2.7,"c":3.17,"v":5102},{"a":2.7,"c":3.6,"v":5113},{"a":2.7,"c":4.03,"v":5126},{"a":2.7,"c":4.47,"v":5140},{"a":2.7,"c":4.9,"v":5156},{"a":2.7,"c":5.33,"v":5173},{"a":2.7,"c":5.77,"v":5192},{"a":2.7,"c":6.2,"v":5212},{"a":2.7,"c":6.63,"v":5234},{"a":2.7,"c":7.07,"v":5257},{"a":2.7,"c":7.5,"v":5282},{"a":2.7,"c":7.93,"v":5309},{"a":2.7,"c":8.37,"v":5337},{"a":2.7,"c":8.8,"v":5366},{"a":2.7,"c":9.23,"v":5397},{"a":2.7,"c":9.67,"v":5429},{"a":2.7,"c":10.1,"v":5463},{"a":2.7,"c":10.53,"v":5498},{"a":2.7,"c":10.97,"v":5535},{"a":2.7,"c":11.4,"v":5574},{"a":2.7,"c":11.83,"v":5614},{"a":2.7,"c":12.27,"v":5655},{"a":2.7,"c":12.7,"v":5698},{"a":2.7,"c":13.13,"v":5743},{"a":2.7,"c":13.57,"v":5789},{"a":2.7,"c":14,"v":5836},
{"a":2.8,"c":1,"v":5068},{"a":2.8,"c":1.43,"v":5071},{"a":2.8,"c":1.87,"v":5076},{"a":2.8,"c":2.3,"v":5083},{"a":2.8,"c":2.73,"v":5091},{"a":2.8,"c":3.17,"v":5100},{"a":2.8,"c":3.6,"v":5111},{"a":2.8,"c":4.03,"v":5124},{"a":2.8,"c":4.47,"v":5138},{"a":2.8,"c":4.9,"v":5154},{"a":2.8,"c":5.33,"v":5171},{"a":2.8,"c":5.77,"v":5190},{"a":2.8,"c":6.2,"v":5210},{"a":2.8,"c":6.63,"v":5232},{"a":2.8,"c":7.07,"v":5255},{"a":2.8,"c":7.5,"v":5279},{"a":2.8,"c":7.93,"v":5305},{"a":2.8,"c":8.37,"v":5333},{"a":2.8,"c":8.8,"v":5362},{"a":2.8,"c":9.23,"v":5393},{"a":2.8,"c":9.67,"v":5425},{"a":2.8,"c":10.1,"v":5459},{"a":2.8,"c":10.53,"v":5494},{"a":2.8,"c":10.97,"v":5531},{"a":2.8,"c":11.4,"v":5570},{"a":2.8,"c":11.83,"v":5609},{"a":2.8,"c":12.27,"v":5651},{"a":2.8,"c":12.7,"v":5693},{"a":2.8,"c":13.13,"v":5738},{"a":2.8,"c":13.57,"v":5784},{"a":2.8,"c":14,"v":5831},
{"a":2.9,"c":1,"v":5060},{"a":2.9,"c":1.43,"v":5064},{"a":2.9,"c":1.87,"v":5068},{"a":2.9,"c":2.3,"v":5075},{"a":2.9,"c":2.73,"v":5083},{"a":2.9,"c":3.17,"v":5092},{"a":2.9,"c":3.6,"v":5103},{"a":2.9,"c":4.03,"v":5115},{"a":2.9,"c":4.47,"v":5130},{"a":2.9,"c":4.9,"v":5145},{"a":2.9,"c":5.33,"v":5162},{"a":2.9,"c":5.77,"v":5180},{"a":2.9,"c":6.2,"v":5200},{"a":2.9,"c":6.63,"v":5222},{"a":2.9,"c":7.07,"v":5245},{"a":2.9,"c":7.5,"v":5270},{"a":2.9,"c":7.93,"v":5296},{"a":2.9,"c":8.37,"v":5323},{"a":2.9,"c":8.8,"v":5352},{"a":2.9,"c":9.23,"v":5383},{"a":2.9,"c":9.67,"v":5415},{"a":2.9,"c":10.1,"v":5449},{"a":2.9,"c":10.53,"v":5484},{"a":2.9,"c":10.97,"v":5520},{"a":2.9,"c":11.4,"v":5558},{"a":2.9,"c":11.83,"v":5598},{"a":2.9,"c":12.27,"v":5639},{"a":2.9,"c":12.7,"v":5682},{"a":2.9,"c":13.13,"v":5726},{"a":2.9,"c":13.57,"v":5772},{"a":2.9,"c":14,"v":5819},
{"a":3,"c":1,"v":5046},{"a":3,"c":1.43,"v":5049},{"a":3,"c":1.87,"v":5054},{"a":3,"c":2.3,"v":5060},{"a":3,"c":2.73,"v":5068},{"a":3,"c":3.17,"v":5077},{"a":3,"c":3.6,"v":5088},{"a":3,"c":4.03,"v":5100},{"a":3,"c":4.47,"v":5114},{"a":3,"c":4.9,"v":5130},{"a":3,"c":5.33,"v":5146},{"a":3,"c":5.77,"v":5165},{"a":3,"c":6.2,"v":5184},{"a":3,"c":6.63,"v":5206},{"a":3,"c":7.07,"v":5229},{"a":3,"c":7.5,"v":5253},{"a":3,"c":7.93,"v":5279},{"a":3,"c":8.37,"v":5306},{"a":3,"c":8.8,"v":5335},{"a":3,"c":9.23,"v":5366},{"a":3,"c":9.67,"v":5397},{"a":3,"c":10.1,"v":5431},{"a":3,"c":10.53,"v":5466},{"a":3,"c":10.97,"v":5502},{"a":3,"c":11.4,"v":5540},{"a":3,"c":11.83,"v":5580},{"a":3,"c":12.27,"v":5621},{"a":3,"c":12.7,"v":5663},{"a":3,"c":13.13,"v":5708},{"a":3,"c":13.57,"v":5753},{"a":3,"c":14,"v":5800}
]},
"data":{"name":"frame"},
"transform":[
{"calculate":"datum.p=='tk'||datum.p=='ti'?(datum.a/3)/(1.1423-0.1423*datum.a/3):datum.a/3","as":"u"},
{"calculate":"datum.p=='tk'||datum.p=='ti'?((datum.c-1)/13)/(1.1416-0.1416*(datum.c-1)/13):(datum.c-1)/13","as":"s"},
{"calculate":"(datum.v-1600)/4200","as":"t"},
{"calculate":"(321+295.8*datum.u-203.4*datum.s-23.4*datum.t)/(1+0.1423*datum.u+0.1416*datum.s-0.0712*datum.t)","as":"X"},
{"calculate":"(467-52.35*datum.u-52.6*datum.s-342.5*datum.t)/(1+0.1423*datum.u+0.1416*datum.s)","as":"Y"}
],
"encoding":{"x":{"field":"X","type":"quantitative","axis":null,"scale":{"domain":[0,570],"nice":false,"zero":false}},"y":{"field":"Y","type":"quantitative","axis":null,"scale":{"domain":[479,0],"nice":false,"zero":false}}},
"layer":[
{"transform":[{"filter":"datum.p=='wall'"}],"mark":{"type":"line","interpolate":"linear-closed","fill":"#ffff00","stroke":"#111111","strokeWidth":1},"encoding":{"detail":{"field":"id"},"order":{"field":"o"}}},
{"transform":[{"filter":"datum.p=='edge'"}],"mark":{"type":"line","stroke":"#000000","strokeWidth":1.6},"encoding":{"detail":{"field":"id"},"order":{"field":"o"}}},
{"transform":[{"filter":"datum.p=='cont'"}],"mark":{"type":"line","interpolate":"cardinal","strokeWidth":1.1},"encoding":{"stroke":{"field":"id","type":"nominal","legend":null,"scale":{"domain":["2700","3400","4100","4800"],"range":["#00d0e8","#00e0c8","#00e000","#98f020"]}},"order":{"field":"o"}}},
{"data":{"name":"surface"},"transform":[
{"calculate":"round(datum.a*10)","as":"i"},{"calculate":"round((datum.c-1)*30/13)","as":"j"},
{"calculate":"[0,1,2,3]","as":"o"},{"flatten":["o"]},
{"calculate":"datum.i-((datum.o==1||datum.o==2)?1:0)","as":"ci"},{"calculate":"datum.j-((datum.o==2||datum.o==3)?1:0)","as":"cj"},
{"filter":"datum.ci>=0&&datum.ci<30&&datum.cj>=0&&datum.cj<30"},
{"calculate":"datum.ci*100+datum.cj","as":"k"},
{"joinaggregate":[{"op":"mean","field":"v","as":"m"}],"groupby":["k"]},
{"calculate":"datum.a/3","as":"u"},{"calculate":"(datum.c-1)/13","as":"s"},{"calculate":"(datum.v-1600)/4200","as":"t"},
{"calculate":"(321+295.8*datum.u-203.4*datum.s-23.4*datum.t)/(1+0.1423*datum.u+0.1416*datum.s-0.0712*datum.t)","as":"X"},
{"calculate":"(467-52.35*datum.u-52.6*datum.s-342.5*datum.t)/(1+0.1423*datum.u+0.1416*datum.s)","as":"Y"}
],"mark":{"type":"line","interpolate":"linear-closed","stroke":"#000000","strokeWidth":0.9},"encoding":{"detail":{"field":"k"},"order":{"field":"o"},"fill":{"field":"m","type":"quantitative","legend":null,"scale":{"domain":[2300,3400,4500,5800],"range":["#00ffff","#00ff00","#ffff00","#ff0000"],"interpolate":"rgb"}}}},
{"transform":[{"filter":"datum.p=='stem'"}],"mark":{"type":"line","stroke":"#000000","strokeWidth":1},"encoding":{"detail":{"field":"id"},"order":{"field":"o"}}},
{"transform":[{"filter":"datum.p=='dot'"}],"mark":{"type":"point","filled":true,"size":64,"stroke":"#000000","strokeWidth":1,"opacity":1},"encoding":{"fill":{"field":"id","type":"nominal","legend":null,"scale":{"domain":["above","below"],"range":["#ff0000","#f4b6b6"]}}}},
{"transform":[{"filter":"datum.p=='tk'"}],"mark":{"type":"point","filled":true,"size":9,"color":"#000000","opacity":1}},
{"transform":[{"filter":"datum.p=='tk'&&datum.id=='z'"}],"mark":{"type":"text","font":"Liberation Serif","fontSize":13.5,"align":"right","baseline":"middle","dx":-6,"dy":8.5,"color":"#111111"},"encoding":{"text":{"field":"lab"}}},
{"transform":[{"filter":"datum.p=='tk'&&datum.id=='x'"}],"mark":{"type":"text","font":"Liberation Serif","fontSize":13.5,"align":"left","baseline":"middle","dx":7,"dy":7.5,"color":"#111111"},"encoding":{"text":{"field":"lab"}}},
{"transform":[{"filter":"datum.id=='c0'"}],"mark":{"type":"text","font":"Liberation Serif","fontSize":13.5,"align":"right","baseline":"middle","dx":-15,"dy":7.5,"color":"#111111"},"encoding":{"text":{"field":"lab"}}},
{"transform":[{"filter":"datum.id=='tc'"}],"mark":{"type":"text","font":"Liberation Serif","fontSize":20,"align":"center","baseline":"middle","dx":-84,"dy":43,"color":"#111111"},"encoding":{"text":{"field":"lab"}}},
{"transform":[{"filter":"datum.id=='ta'"}],"mark":{"type":"text","font":"Liberation Serif","fontSize":20,"align":"center","baseline":"middle","dx":85,"dy":43,"color":"#111111"},"encoding":{"text":{"field":"lab"}}},
{"transform":[{"filter":"datum.id=='tz'"}],"mark":{"type":"text","font":"Liberation Serif","fontSize":20,"align":"center","baseline":"middle","angle":270,"dx":-42.5,"dy":-74,"color":"#111111"},"encoding":{"text":{"field":"lab"}}}
]}
